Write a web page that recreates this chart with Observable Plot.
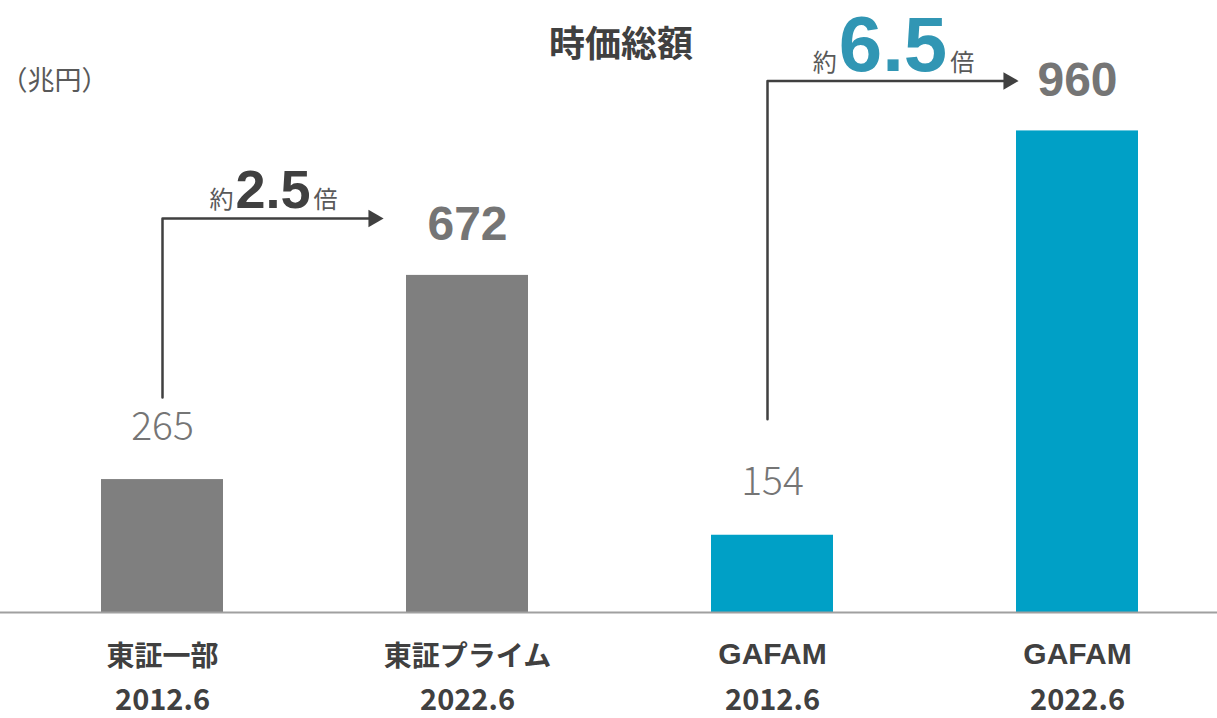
<!DOCTYPE html>
<html><head><meta charset="utf-8">
<script src="https://cdn.jsdelivr.net/npm/d3@7"></script>
<script src="https://cdn.jsdelivr.net/npm/@observablehq/plot@0.6"></script>
<style>body{margin:0;background:#fff} svg{display:block}</style>
</head><body><div id="chart"></div>
<script>
// ---- data ----
const names = ["東証一部", "東証プライム", "GAFAM", "GAFAM"];
const dates = ["2012.6", "2022.6", "2012.6", "2022.6"];
const values = [265, 672, 154, 960];
const groups = ["tse", "tse", "gafam", "gafam"];
const multiples = ["2.5", "6.5"];
const arrowPairs = [[0, 1], [2, 3]];
const chartTitle = "時価総額";
const unitLabel = "（兆円）";

// ---- layout / style ----
const W = 1217, H = 718, mTop = 0, mBottom = 106;
const yMax = 1220;
const valPerPx = yMax / (H - mTop - mBottom);
const xRange = [9.5, 1229.5], xDomain = [-0.5, 3.5];
const idxPerPx = (xDomain[1] - xDomain[0]) / (xRange[1] - xRange[0]);
const half = 0.2;
const colors = {tse: "#7f7f7f", gafam: "#00a0c6"};
const dark = "#404040", mid = "#595959", valGray = "#757575";
const jp = "'Noto Sans CJK JP', 'Noto Sans', sans-serif";
const lat = "'Liberation Sans', Arial, sans-serif";

const data = names.map((n, i) => ({i, name: n, date: dates[i], value: values[i], group: groups[i], bold: i % 2 === 1,
  latin: /^[\x00-\x7f]+$/.test(n)}));

// annotation layout per arrow (pixel offsets)
const arrowLayout = [
  {startPx: 82, levelPx: 57, tipPx: 84, xPx: 0, numSize: 54, numColor: dark},
  {startPx: 116, levelPx: 50, tipPx: 59, xPx: -5, numSize: 78, numColor: "#3196b4"}
];
const ctx = document.createElement("canvas").getContext("2d");
function measure(t, font) { ctx.font = font; return ctx.measureText(t).width; }

const lines = [], heads = [], nums = [], pre = [], post = [];
arrowPairs.forEach(([a, b], k) => {
  const L = arrowLayout[k];
  const x0 = a + L.xPx * idxPerPx;
  const tip = b - L.tipPx * idxPerPx;
  const start = values[a] + L.startPx * valPerPx;
  const level = values[b] + L.levelPx * valPerPx;
  lines.push({k, x: x0, y: start}, {k, x: x0, y: level}, {k, x: tip - 10 * idxPerPx, y: level});
  heads.push({x: tip, y: level});
  const w = measure(multiples[k], `bold ${L.numSize}px ${lat}`);
  const cx = (x0 + tip) / 2;
  nums.push({x: cx, y: level, text: multiples[k], size: L.numSize, color: L.numColor});
  pre.push({x: cx - (w / 2 + 2) * idxPerPx, y: level, text: "約"});
  post.push({x: cx + (w / 2 + 3) * idxPerPx, y: level, text: "倍"});
});

const chart = Plot.plot({
  width: W, height: H,
  marginTop: mTop, marginBottom: mBottom, marginLeft: 0, marginRight: 0,
  x: {domain: xDomain, range: xRange, axis: null},
  y: {domain: [0, yMax], axis: null},
  color: {type: "identity"},
  style: {fontFamily: jp, background: "#fff", overflow: "visible"},
  marks: [
    Plot.rectY(data, {x1: d => d.i - half, x2: d => d.i + half, y1: 0, y2: "value", fill: d => colors[d.group]}),
    Plot.ruleY([0], {stroke: "#a0a0a0", strokeWidth: 2}),
    // value labels
    Plot.text(data.filter(d => !d.bold), {x: "i", y: "value", text: d => String(d.value), dy: -40, lineAnchor: "bottom",
      fontSize: 39, fontWeight: 300, fontFamily: jp, fill: valGray}),
    Plot.text(data.filter(d => d.bold), {x: "i", y: "value", text: d => String(d.value), dy: -35, lineAnchor: "bottom",
      fontSize: 48, fontWeight: "bold", fontFamily: lat, fill: valGray}),
    // category labels
    Plot.text(data.filter(d => !d.latin), {x: "i", y: 0, text: "name", dy: 45, lineAnchor: "middle", fontSize: 28, fontWeight: "bold", fill: dark}),
    Plot.text(data.filter(d => d.latin), {x: "i", y: 0, text: "name", dy: 51, lineAnchor: "bottom", fontSize: 30, fontWeight: "bold",
      fontFamily: lat, fill: dark}),
    Plot.text(data, {x: "i", y: 0, text: "date", dy: 97, lineAnchor: "bottom", fontSize: 29, fontWeight: "bold", fill: dark}),
    // arrows
    Plot.line(lines, {x: "x", y: "y", z: "k", stroke: dark, strokeWidth: 2.5}),
    Plot.dot(heads, {x: "x", y: "y", symbol: "triangle", rotate: 90, r: 6.5, dx: -10, fill: dark, stroke: "none"}),
    Plot.text(nums, {x: "x", y: "y", text: "text", dy: -10, lineAnchor: "bottom", fontSize: d => d.size, fontWeight: "bold",
      fontFamily: lat, fill: "color"}),
    Plot.text(pre, {x: "x", y: "y", text: "text", dy: -10, lineAnchor: "bottom", textAnchor: "end", fontSize: 24, fill: mid}),
    Plot.text(post, {x: "x", y: "y", text: "text", dy: -10, lineAnchor: "bottom", textAnchor: "start", fontSize: 24, fill: mid}),
    // title & unit
    Plot.text([chartTitle], {frameAnchor: "top", text: d => d, dx: 12, dy: 45, lineAnchor: "middle", fontSize: 36, fontWeight: "bold", fill: dark}),
    Plot.text([unitLabel], {frameAnchor: "top-left", text: d => d, dx: 0, dy: 81, lineAnchor: "middle", textAnchor: "start", fontSize: 27, fill: mid})
  ]
});
document.getElementById("chart").appendChild(chart);
</script>
</body></html>
